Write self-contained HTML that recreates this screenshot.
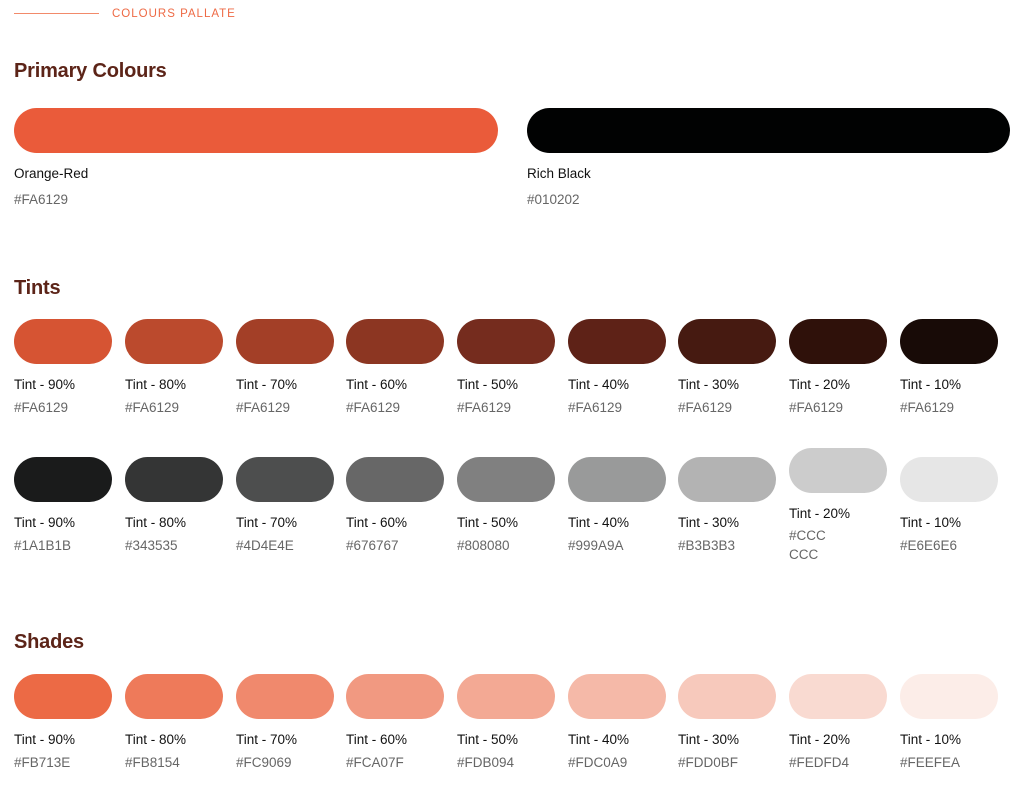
<!DOCTYPE html>
<html><head><meta charset="utf-8"><style>
body{margin:0;width:1024px;height:788px;background:#fff;position:relative;overflow:hidden;font-family:"Liberation Sans",sans-serif}
.a{position:absolute}
.h{position:absolute;left:14px;font-size:20px;font-weight:bold;color:#5c2418;letter-spacing:-0.2px}
.s{position:absolute;width:98px;height:45px;border-radius:23px}
.n{position:absolute;font-size:13.5px;color:#111;white-space:nowrap}
.x{position:absolute;font-size:13.5px;color:#666;white-space:nowrap;line-height:19px}
</style></head><body>
<div class="a" style="left:14px;top:13px;width:85px;height:1px;background:#f28a6a"></div>
<div class="a" style="left:112px;top:8px;font-size:11.5px;letter-spacing:1px;color:#ee6a45">COLOURS PALLATE</div>
<div class="h" style="top:60px">Primary Colours</div>
<div class="a" style="left:14px;top:108px;width:484px;height:45px;border-radius:23px;background:#ea5b3a"></div>
<div class="a" style="left:527px;top:108px;width:483px;height:45px;border-radius:23px;background:#010202"></div>
<div class="n" style="left:14px;top:166px">Orange-Red</div><div class="x" style="left:14px;top:190px">#FA6129</div>
<div class="n" style="left:527px;top:166px">Rich Black</div><div class="x" style="left:527px;top:190px">#010202</div>
<div class="h" style="top:277px">Tints</div>
<div class="h" style="top:631px">Shades</div>

<div class="s" style="left:14px;top:319px;background:#d65433"></div>
<div class="s" style="left:125px;top:319px;background:#bb4a2d"></div>
<div class="s" style="left:236px;top:319px;background:#a33f27"></div>
<div class="s" style="left:346px;top:319px;background:#8c3622"></div>
<div class="s" style="left:457px;top:319px;background:#752c1e"></div>
<div class="s" style="left:568px;top:319px;background:#5e2217"></div>
<div class="s" style="left:678px;top:319px;background:#461a11"></div>
<div class="s" style="left:789px;top:319px;background:#2f110a"></div>
<div class="s" style="left:900px;top:319px;background:#180b07"></div>
<div class="n" style="left:14px;top:377px">Tint - 90%</div><div class="x" style="left:14px;top:398px">#FA6129</div>
<div class="n" style="left:125px;top:377px">Tint - 80%</div><div class="x" style="left:125px;top:398px">#FA6129</div>
<div class="n" style="left:236px;top:377px">Tint - 70%</div><div class="x" style="left:236px;top:398px">#FA6129</div>
<div class="n" style="left:346px;top:377px">Tint - 60%</div><div class="x" style="left:346px;top:398px">#FA6129</div>
<div class="n" style="left:457px;top:377px">Tint - 50%</div><div class="x" style="left:457px;top:398px">#FA6129</div>
<div class="n" style="left:568px;top:377px">Tint - 40%</div><div class="x" style="left:568px;top:398px">#FA6129</div>
<div class="n" style="left:678px;top:377px">Tint - 30%</div><div class="x" style="left:678px;top:398px">#FA6129</div>
<div class="n" style="left:789px;top:377px">Tint - 20%</div><div class="x" style="left:789px;top:398px">#FA6129</div>
<div class="n" style="left:900px;top:377px">Tint - 10%</div><div class="x" style="left:900px;top:398px">#FA6129</div>

<div class="s" style="left:14px;top:457px;background:#1a1b1b"></div>
<div class="s" style="left:125px;top:457px;background:#343535"></div>
<div class="s" style="left:236px;top:457px;background:#4d4e4e"></div>
<div class="s" style="left:346px;top:457px;background:#676767"></div>
<div class="s" style="left:457px;top:457px;background:#808080"></div>
<div class="s" style="left:568px;top:457px;background:#999a9a"></div>
<div class="s" style="left:678px;top:457px;background:#b3b3b3"></div>
<div class="s" style="left:789px;top:448px;background:#cccccc"></div>
<div class="s" style="left:900px;top:457px;background:#e6e6e6"></div>
<div class="n" style="left:14px;top:515px">Tint - 90%</div><div class="x" style="left:14px;top:536px">#1A1B1B</div>
<div class="n" style="left:125px;top:515px">Tint - 80%</div><div class="x" style="left:125px;top:536px">#343535</div>
<div class="n" style="left:236px;top:515px">Tint - 70%</div><div class="x" style="left:236px;top:536px">#4D4E4E</div>
<div class="n" style="left:346px;top:515px">Tint - 60%</div><div class="x" style="left:346px;top:536px">#676767</div>
<div class="n" style="left:457px;top:515px">Tint - 50%</div><div class="x" style="left:457px;top:536px">#808080</div>
<div class="n" style="left:568px;top:515px">Tint - 40%</div><div class="x" style="left:568px;top:536px">#999A9A</div>
<div class="n" style="left:678px;top:515px">Tint - 30%</div><div class="x" style="left:678px;top:536px">#B3B3B3</div>
<div class="n" style="left:789px;top:506px">Tint - 20%</div><div class="x" style="left:789px;top:526px">#CCC<br>CCC</div>
<div class="n" style="left:900px;top:515px">Tint - 10%</div><div class="x" style="left:900px;top:536px">#E6E6E6</div>

<div class="s" style="left:14px;top:674px;background:#ec6a45"></div>
<div class="s" style="left:125px;top:674px;background:#ee7a5a"></div>
<div class="s" style="left:236px;top:674px;background:#f0896d"></div>
<div class="s" style="left:346px;top:674px;background:#f19981"></div>
<div class="s" style="left:457px;top:674px;background:#f3a994"></div>
<div class="s" style="left:568px;top:674px;background:#f5b9a8"></div>
<div class="s" style="left:678px;top:674px;background:#f7c9bc"></div>
<div class="s" style="left:789px;top:674px;background:#f9dad1"></div>
<div class="s" style="left:900px;top:674px;background:#fcede8"></div>
<div class="n" style="left:14px;top:732px">Tint - 90%</div><div class="x" style="left:14px;top:753px">#FB713E</div>
<div class="n" style="left:125px;top:732px">Tint - 80%</div><div class="x" style="left:125px;top:753px">#FB8154</div>
<div class="n" style="left:236px;top:732px">Tint - 70%</div><div class="x" style="left:236px;top:753px">#FC9069</div>
<div class="n" style="left:346px;top:732px">Tint - 60%</div><div class="x" style="left:346px;top:753px">#FCA07F</div>
<div class="n" style="left:457px;top:732px">Tint - 50%</div><div class="x" style="left:457px;top:753px">#FDB094</div>
<div class="n" style="left:568px;top:732px">Tint - 40%</div><div class="x" style="left:568px;top:753px">#FDC0A9</div>
<div class="n" style="left:678px;top:732px">Tint - 30%</div><div class="x" style="left:678px;top:753px">#FDD0BF</div>
<div class="n" style="left:789px;top:732px">Tint - 20%</div><div class="x" style="left:789px;top:753px">#FEDFD4</div>
<div class="n" style="left:900px;top:732px">Tint - 10%</div><div class="x" style="left:900px;top:753px">#FEEFEA</div>
</body></html>
